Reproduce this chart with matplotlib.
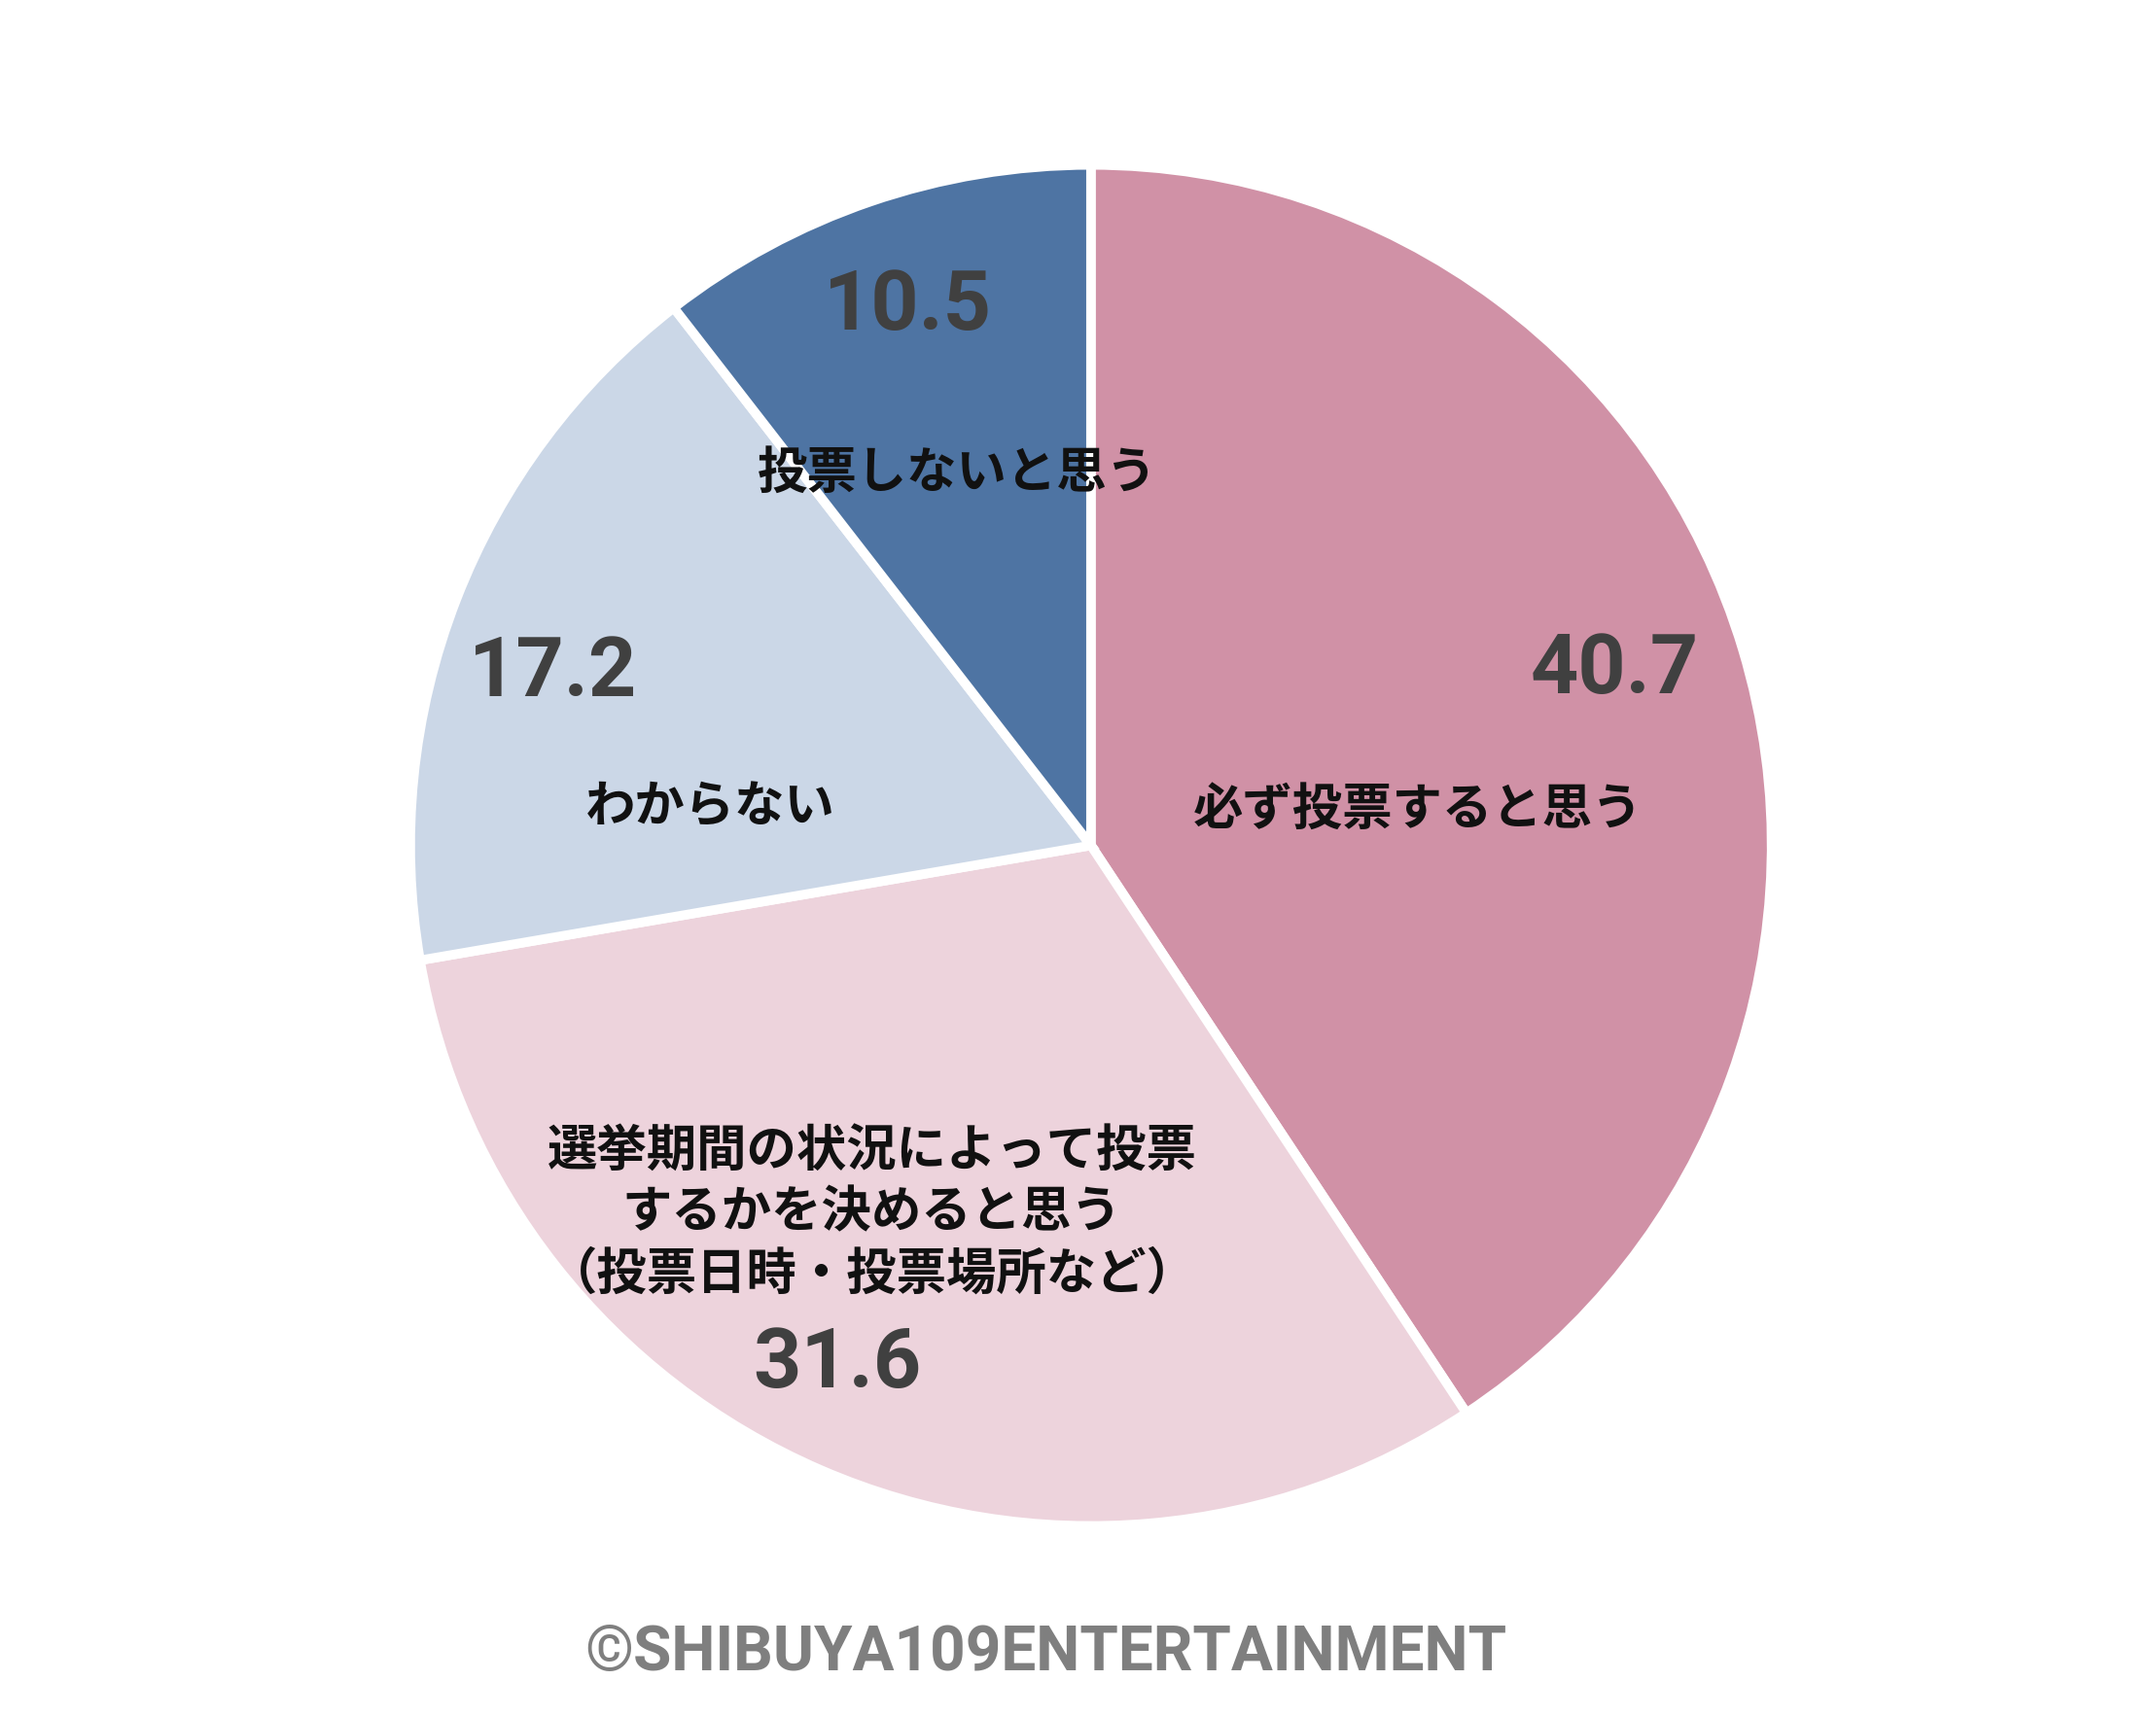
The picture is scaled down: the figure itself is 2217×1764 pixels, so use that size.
import matplotlib
matplotlib.use('Agg')
import matplotlib.pyplot as plt

# data
labels = ['必ず投票すると思う', '選挙期間の状況によって投票\nするかを決めると思う\n（投票日時・投票場所など）', 'わからない', '投票しないと思う']
values = [40.7, 31.6, 17.2, 10.5]
colors = ['#D091A6', '#EDD3DC', '#CBD7E7', '#4E74A3']

# label positions (unit circle coords)
num_pos = [(0.77, 0.257), (-0.373, -0.763), (-0.79, 0.253), (-0.269, 0.792)]
lab_pos = [(0.48, 0.053), (-0.322, -0.539), (-0.559, 0.057), (-0.196, 0.547)]

fig = plt.figure(figsize=(22.17, 17.64), dpi=100)
ax = fig.add_axes([0.506 - 0.3157, 0.507 - 0.3968, 0.6314, 0.7937])
ax.pie(values, colors=colors, startangle=90, counterclock=False,
       wedgeprops=dict(edgecolor='white', linewidth=7))
ax.set_xlim(-1, 1)
ax.set_ylim(-1, 1)
ax.set_aspect('equal')

for v, (x, y) in zip(values, num_pos):
    ax.text(x, y, '{0}'.format(v), ha='center', va='center', fontsize=62,
            fontweight='bold', family=['Roboto', 'DejaVu Sans'], color='#404040')
for lab, (x, y) in zip(labels, lab_pos):
    ax.text(x, y, lab, ha='center', va='center', fontsize=37, fontweight='bold',
            family=['Noto Sans CJK JP', 'DejaVu Sans'], color='#111111', linespacing=1.25)

fig.text(0.485, 0.036, '©SHIBUYA109ENTERTAINMENT', ha='center', va='center',
         fontsize=46, fontweight='bold', family=['Roboto', 'DejaVu Sans'], color='#7f7f7f')

plt.savefig('out.png')
plt.close(fig)
